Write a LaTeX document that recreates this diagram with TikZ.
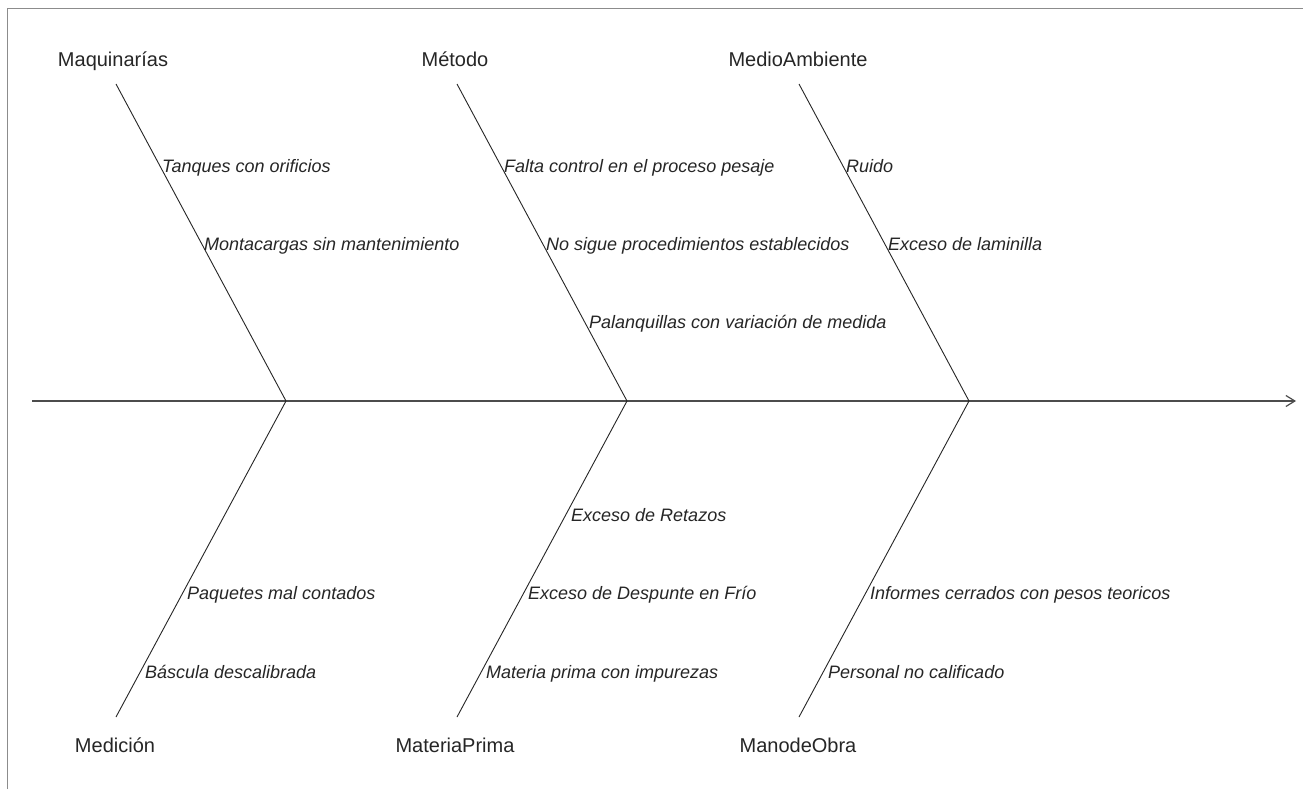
\documentclass[tikz,border=0pt]{standalone}
\usepackage{fontspec}
\setmainfont{Liberation Sans}
\usetikzlibrary{arrows.meta}
\begin{document}
\begin{tikzpicture}[x=1bp,y=-1bp,
  frameline/.style={draw=black!45,line width=1.8bp},
  spine/.style={draw=black!70,line width=1.5bp},
  rib/.style={draw=black!85,line width=0.9bp},
  cat/.style={font=\fontsize{20bp}{24bp}\selectfont,text=black!85,inner sep=0pt,anchor=base},
  cause/.style={font=\fontsize{18bp}{22bp}\selectfont\itshape,text=black!85,inner sep=0pt,anchor=base west}]
\useasboundingbox (0,0) rectangle (1303,789);
\fill[white] (0,0) rectangle (1303,789);
\draw[frameline] (7.5,789) -- (7.5,8.5) -- (1303,8.5);
% spine
\coordinate (s0) at (32,401);
\coordinate (s1) at (1296,401);
\draw[spine,-{Straight Barb[length=9bp,width=11bp,line width=1.2bp]}] (s0) -- (s1);
% junctions
\coordinate (j1) at (286,401);
\coordinate (j2) at (627,401);
\coordinate (j3) at (969,401);
% top rib starts
\coordinate (t1) at (116,84);
\coordinate (t2) at (457,84);
\coordinate (t3) at (799,84);
% bottom rib ends
\coordinate (b1) at (116,717);
\coordinate (b2) at (457,717);
\coordinate (b3) at (799,717);
\draw[rib] (t1) -- (j1);
\draw[rib] (t2) -- (j2);
\draw[rib] (t3) -- (j3);
\draw[rib] (b1) -- (j1);
\draw[rib] (b2) -- (j2);
\draw[rib] (b3) -- (j3);
% category labels
\node[cat] (maq) at (113,66) {Maquinarías};
\node[cat] (met) at (455,66) {Método};
\node[cat] (med) at (798,66) {MedioAmbiente};
\node[cat] (mdc) at (115,752) {Medición};
\node[cat] (mpr) at (455,752) {MateriaPrima};
\node[cat] (mob) at (798,752) {ManodeObra};
% causes, top
\node[cause] (c11) at (162,172) {Tanques con orificios};
\node[cause] (c12) at (204,250) {Montacargas sin mantenimiento};
\node[cause] (c21) at (504,172) {Falta control en el proceso pesaje};
\node[cause] (c22) at (546,250) {No sigue procedimientos establecidos};
\node[cause] (c23) at (589,328) {Palanquillas con variación de medida};
\node[cause] (c31) at (846,172) {Ruido};
\node[cause] (c32) at (888,250) {Exceso de laminilla};
% causes, bottom
\node[cause] (d11) at (187,599) {Paquetes mal contados};
\node[cause] (d12) at (145,678) {Báscula descalibrada};
\node[cause] (d21) at (571,521) {Exceso de Retazos};
\node[cause] (d22) at (528,599) {Exceso de Despunte en Frío};
\node[cause] (d23) at (486,678) {Materia prima con impurezas};
\node[cause] (d31) at (870,599) {Informes cerrados con pesos teoricos};
\node[cause] (d32) at (828,678) {Personal no calificado};
\end{tikzpicture}
\end{document}
